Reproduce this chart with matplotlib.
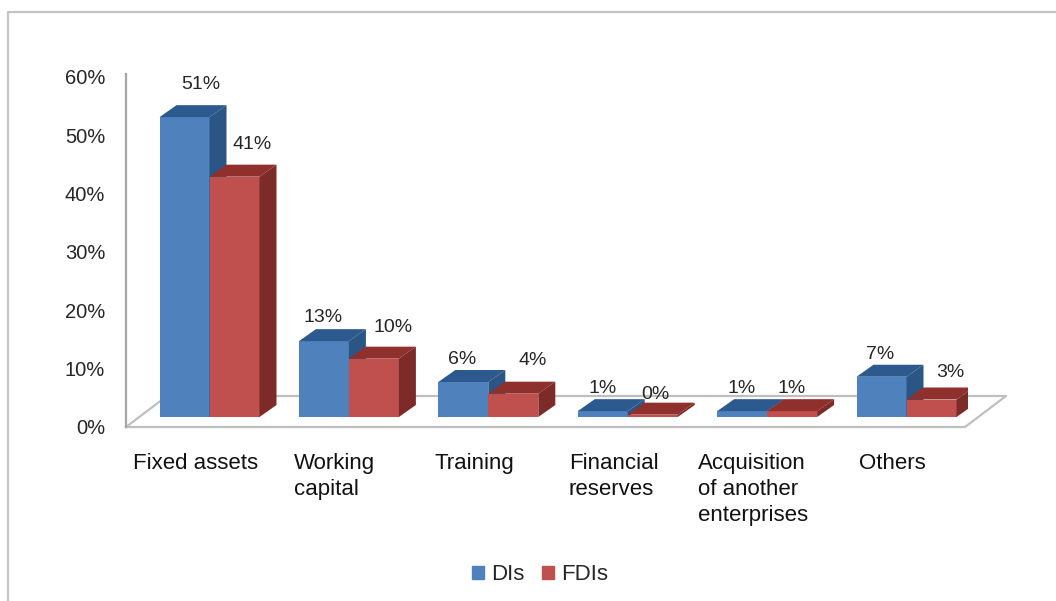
import matplotlib
matplotlib.use('Agg')
import matplotlib.pyplot as plt
from matplotlib.lines import Line2D
from matplotlib.patches import Patch, Polygon

plt.rcParams['font.family'] = ['Liberation Sans', 'DejaVu Sans']

categories = ['Fixed assets', 'Working\ncapital', 'Training', 'Financial\nreserves',
              'Acquisition\nof another\nenterprises', 'Others']
dis = [51.4, 13, 6, 1, 1, 6.9]
fdis = [41.2, 10, 4, 0.4, 1, 3]
y_ticks = [0, 10, 20, 30, 40, 50, 60]

# label shift from the bar top, in pixels
dis_label_shift = [(16, 33), (-1, 24), (-1, 23), (0, 23), (0, 23), (-1, 22)]
fdis_label_shift = [(18, 32), (19, 31), (19, 33), (3, 20), (0, 23), (19, 27)]

W, H = 1056, 601
px_x = 139.4   # pixels per category
px_y = 350 / 60   # pixels per percent
bar_w = 50 / px_x
base = 10 / px_y  # floor in front of the wall
dx = 17 / px_x
dy = 12 / px_y

blue = ('#4F81BD', '#2C5A8E', '#2A5585')
red = ('#C0504D', '#8F302D', '#7D2B29')
text_col = '#262626'

fig = plt.figure(figsize=(W / 100, H / 100), dpi=100)
ax = fig.add_axes([126 / W, 174 / H, 842 / W, 350 / H])
ax.set_xlim(-83.5 / px_x, (842 - 83.5) / px_x)
ax.set_ylim(0, 60)
ax.patch.set_alpha(0)


def draw_bar(x, val, cols):
    left = x
    right = x + bar_w
    top = base + val
    ax.bar(x, val, bar_w, bottom=base, align='edge', color=cols[0], zorder=3)
    ax.add_patch(Polygon([(left, top), (right, top), (right + dx, top + dy), (left + dx, top + dy)],
                         closed=True, fc=cols[1], ec='none', zorder=3))
    ax.add_patch(Polygon([(right, base), (right, top), (right + dx, top + dy), (right + dx, base + dy)],
                         closed=True, fc=cols[2], ec='none', zorder=3))


# floor
fl_dx = 41 / px_x
fl_dy = 31 / px_y
x0, x1 = ax.get_xlim()
ax.plot([x0, x0 + fl_dx, x1 + fl_dx - 3 / px_x, x1 - 3 / px_x, x0],
        [0, fl_dy, fl_dy, 0, 0], color='#BFBFBF', lw=1.6, zorder=1, clip_on=False)
ax.plot([x0, x0], [0, 60.5], color='#A6A6A6', lw=1.6, zorder=2, clip_on=False)

for i in range(len(categories)):
    draw_bar(i - bar_w, dis[i], blue)
    draw_bar(i, fdis[i], red)
    ax.annotate(f'{dis[i]:.0f}%', (i - bar_w / 2, base + dis[i]), xytext=dis_label_shift[i],
                textcoords='offset pixels', ha='center', va='center', fontsize=14, color=text_col, zorder=5)
    ax.annotate(f'{fdis[i]:.0f}%', (i + bar_w / 2, base + fdis[i]), xytext=fdis_label_shift[i],
                textcoords='offset pixels', ha='center', va='center', fontsize=14, color=text_col, zorder=5)

for s in ax.spines.values():
    s.set_visible(False)
ax.set_yticks(y_ticks)
ax.set_yticklabels([f'{t}%' for t in y_ticks], fontsize=14.5, color=text_col)
ax.set_xticks([i - 0.1 for i in range(len(categories))])
ax.set_xticklabels(categories, fontsize=16, color='#111111', multialignment='left', linespacing=1.3)
ax.tick_params(axis='x', length=0, pad=19)
ax.tick_params(axis='y', length=0, pad=15)

handles = [Patch(color=blue[0], label='DIs'), Patch(color=red[0], label='FDIs')]
fig.legend(handles=handles, loc='center', bbox_to_anchor=(540 / W, 1 - 575 / H), ncol=2, frameon=False,
           fontsize=16, handlelength=0.55, handleheight=0.55, handletextpad=0.3, columnspacing=0.8,
           labelcolor=text_col)

# outer frame of the picture
fig.add_artist(Line2D([8 / W, 8 / W, 1], [0, 1 - 12 / H, 1 - 12 / H], color='#C4C4C4', lw=1.6))

fig.savefig('out.png', dpi=100)
